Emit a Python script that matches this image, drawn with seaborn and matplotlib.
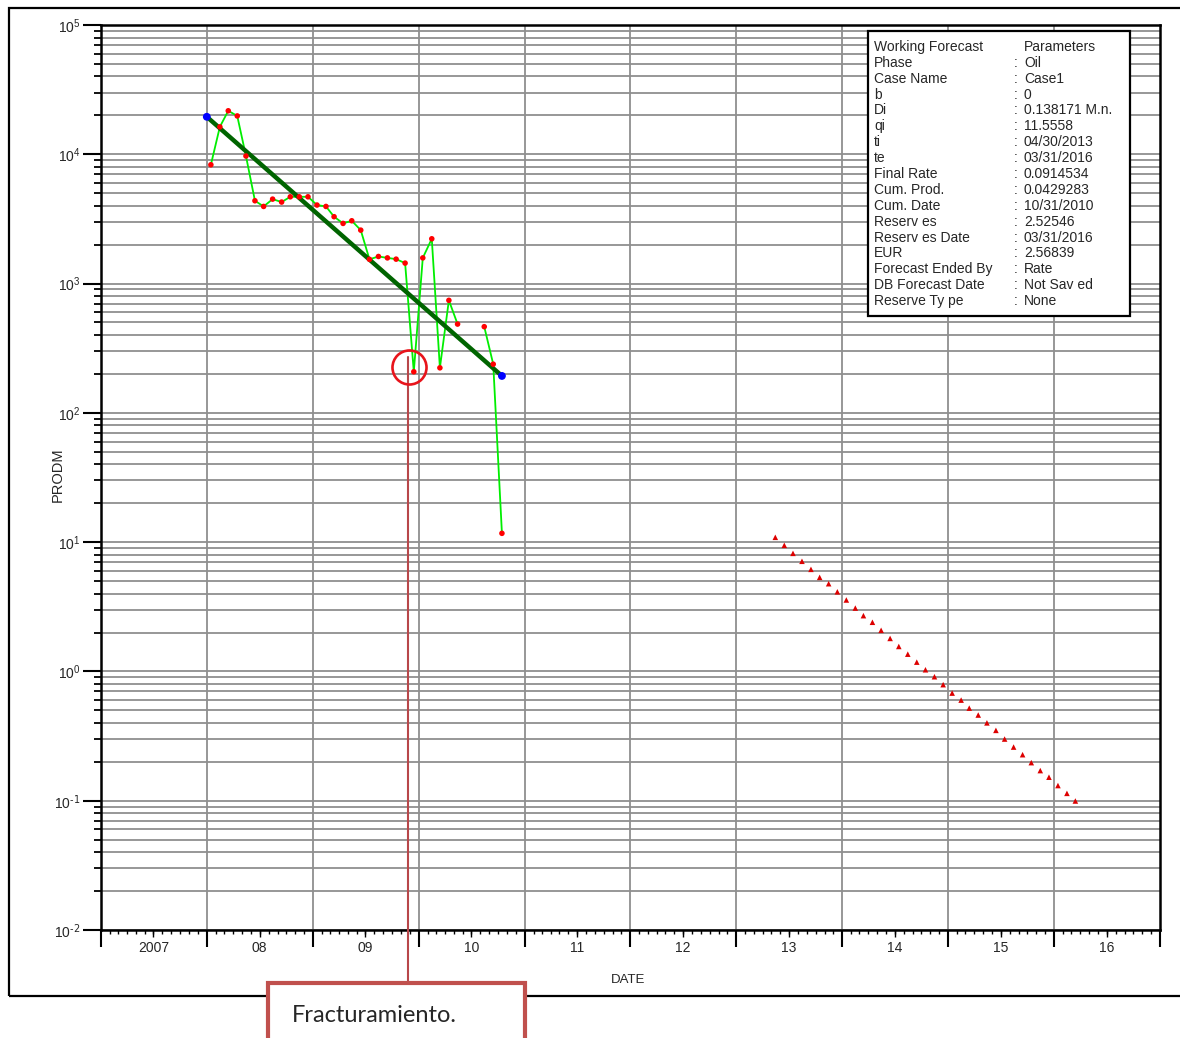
import numpy as np
import pandas as pd
import matplotlib
matplotlib.use("Agg")
import matplotlib.pyplot as plt
from matplotlib.lines import Line2D
from matplotlib.patches import Rectangle
from matplotlib.ticker import FixedLocator, FuncFormatter, NullFormatter
import matplotlib.dates as mdates
import seaborn as sns

# ---------------- data ----------------
hist_months_a = pd.date_range("2008-01-01", "2010-05-01", freq="MS")
hist_months_b = pd.to_datetime(["2010-08-01", "2010-09-01", "2010-10-01"])
hist_rates = [8300, 16300, 21700, 19800, 9700, 4370, 3950, 4500, 4270, 4690, 4690, 4690,
              4050, 3950, 3290, 2920, 3060, 2590, 1540, 1620, 1580, 1545, 1440, 208,
              1580, 2220, 223, 742, 486,
              464, 238, 11.7]
decline_dates = ["2008-01-01", "2010-10-15"]
decline_rates = [19500, 193]
forecast_first_month = "2013-05-01"
forecast_rates = [10.9, 9.45, 8.19, 7.11, 6.16, 5.34, 4.77, 4.13, 3.57, 3.09, 2.70, 2.40,
                  2.08, 1.80, 1.56, 1.36, 1.18, 1.03, 0.91, 0.79, 0.68, 0.60, 0.52, 0.46,
                  0.40, 0.35, 0.30, 0.26, 0.227, 0.197, 0.171, 0.152, 0.131, 0.114, 0.0995]
year_labels = ["2007", "08", "09", "10", "11", "12", "13", "14", "15", "16"]
param_names = ["Working Forecast", "Phase", "Case Name", "b", "Di", "qi", "ti", "te",
               "Final Rate", "Cum. Prod.", "Cum. Date", "Reserv es", "Reserv es Date",
               "EUR", "Forecast Ended By", "DB Forecast Date", "Reserve Ty pe"]
param_values = ["Parameters", "Oil", "Case1", "0", "0.138171 M.n.", "11.5558",
                "04/30/2013", "03/31/2016", "0.0914534", "0.0429283", "10/31/2010",
                "2.52546", "03/31/2016", "2.56839", "Rate", "Not Sav ed", "None"]

# ---------------- frames ----------------
offset = pd.Timedelta(days=14)
hist_dates = list(hist_months_a + offset) + list(hist_months_b + offset)
segment = [0] * len(hist_months_a) + [1] * len(hist_months_b)
hist_df = pd.DataFrame({"date": hist_dates, "rate": hist_rates, "seg": segment})
decl_df = pd.DataFrame({"date": pd.to_datetime(decline_dates), "rate": decline_rates})
fc_dates = pd.date_range(forecast_first_month, periods=len(forecast_rates), freq="MS") + offset
fc_df = pd.DataFrame({"date": fc_dates, "rate": forecast_rates})

# ---------------- style ----------------
sns.set_theme(style="white")
plt.rcParams["font.family"] = ["Liberation Sans", "DejaVu Sans"]
plt.rcParams["mathtext.default"] = "regular"
plt.rcParams["axes.unicode_minus"] = False

W, H = 1180, 1038
fig = plt.figure(figsize=(W / 100, H / 100), dpi=100)
fig.patch.set_facecolor("white")


def fx(px):
    return px / W


def fy(py):
    return 1 - py / H


ax = fig.add_axes([fx(101), fy(930), fx(1160) - fx(101), fy(25) - fy(930)])
ax.set_facecolor("white")

# data layers
sns.lineplot(data=decl_df, x="date", y="rate", color="#006400", linewidth=3.2,
             ax=ax, zorder=4, sort=False)
sns.lineplot(data=hist_df, x="date", y="rate", units="seg", estimator=None,
             color="#00EE00", linewidth=1.3, ax=ax, zorder=3, sort=False)
sns.scatterplot(data=hist_df, x="date", y="rate", color="#FF0000", s=16,
                edgecolor="none", ax=ax, zorder=5)
sns.scatterplot(data=decl_df, x="date", y="rate", color="#0000FF", s=32,
                edgecolor="none", ax=ax, zorder=6)
sns.scatterplot(data=fc_df, x="date", y="rate", color="#DD0000", marker="^", s=16,
                edgecolor="none", ax=ax, zorder=5)

ax.set_yscale("log")
ax.set_ylim(1e-2, 1e5)
ax.set_xlim(pd.Timestamp("2007-01-01"), pd.Timestamp("2017-01-01"))


def exp_label(v, p):
    e = int(round(np.log10(v)))
    if e < 0:
        return r"$\mathdefault{10^{\text{%d}}}$" % e
    return r"$\mathdefault{10^{%d}}$" % e


# y ticks
ax.yaxis.set_major_locator(FixedLocator([10.0 ** k for k in range(-2, 6)]))
ax.yaxis.set_major_formatter(FuncFormatter(exp_label))
minor_y = [m * 10.0 ** k for k in range(-2, 5) for m in range(2, 10)]
ax.yaxis.set_minor_locator(FixedLocator(minor_y))
ax.yaxis.set_minor_formatter(NullFormatter())
ax.tick_params(axis="y", which="major", direction="out", length=13, width=1.5,
               color="black", labelsize=10, pad=2, left=True)
ax.tick_params(axis="y", which="minor", direction="out", length=5, width=1.3,
               color="black", left=True)

# x ticks
year_starts = pd.date_range("2007-01-01", "2017-01-01", freq="YS")
months = pd.date_range("2007-01-01", "2017-01-01", freq="MS")
ax.xaxis.set_major_locator(FixedLocator(mdates.date2num(year_starts)))
ax.xaxis.set_major_formatter(NullFormatter())
ax.xaxis.set_minor_locator(FixedLocator(mdates.date2num(months)))
ax.xaxis.set_minor_formatter(NullFormatter())
ax.tick_params(axis="x", which="major", direction="out", length=12, width=1.5,
               color="black", bottom=True)
ax.tick_params(axis="x", which="minor", direction="out", length=3, width=1.0,
               color="black", bottom=True)

sec = ax.secondary_xaxis("bottom")
mid_years = pd.date_range("2007-07-01", "2016-07-01", freq="12MS")
sec.set_xticks(mdates.date2num(mid_years))
sec.set_xticklabels(year_labels)
sec.tick_params(axis="x", direction="out", length=5, width=1.0, color="black",
                labelsize=10, pad=3)
sec.spines["bottom"].set_visible(False)

# grid
ax.grid(False)
for yv in [10.0 ** k for k in range(-2, 6)] + minor_y:
    ax.axhline(yv, color="#8f8f8f", linewidth=1.3, zorder=1)
for d in year_starts[1:-1]:
    ax.axvline(d, color="#8f8f8f", linewidth=1.3, zorder=1)

for s in ax.spines.values():
    s.set_visible(True)
    s.set_color("black")
    s.set_linewidth(1.8)

ax.set_xlabel("")
ax.set_ylabel("")
fig.text(fx(58), fy(475), "PRODM", rotation=90, ha="center", va="center", fontsize=10.5)
fig.text(fx(628), fy(980), "DATE", ha="center", va="center", fontsize=9.5)

# outer frame
fig.add_artist(Rectangle((fx(9), fy(996)), fx(1190) - fx(9), fy(8) - fy(996),
                         transform=fig.transFigure, fill=False, edgecolor="black",
                         linewidth=1.6, zorder=0.5, clip_on=False))

# parameters box
fig.add_artist(Rectangle((fx(868), fy(316)), fx(1130) - fx(868), fy(31) - fy(316),
                         transform=fig.transFigure, facecolor="white", edgecolor="black",
                         linewidth=1.6, zorder=8))
for i, (nm, val) in enumerate(zip(param_names, param_values)):
    yy = fy(47 + i * 15.875)
    fig.text(fx(874), yy, nm, ha="left", va="center", fontsize=10, zorder=9)
    if i > 0:
        fig.text(fx(1014), yy, ":", ha="left", va="center", fontsize=10, zorder=9)
    fig.text(fx(1024), yy, val, ha="left", va="center", fontsize=10, zorder=9)

# annotation
fig.add_artist(Line2D([fx(408), fx(408)], [fy(357), fy(985)], color="#B8474A",
                      linewidth=1.5, transform=fig.transFigure, zorder=10))
fig.add_artist(Line2D([fx(409)], [fy(367)], marker="o", markersize=24.5,
                      markerfacecolor="none", markeredgecolor="#E8141B",
                      markeredgewidth=1.9, transform=fig.transFigure, zorder=10))
fig.add_artist(Rectangle((fx(268), fy(1045)), fx(525) - fx(268), fy(983) - fy(1045),
                         transform=fig.transFigure, facecolor="white",
                         edgecolor="#C0504D", linewidth=3.0, zorder=11, clip_on=False))
fig.text(fx(292), fy(1015), "Fracturamiento.", ha="left", va="center", fontsize=17,
         family=["Lato", "DejaVu Sans"], zorder=12)

fig.savefig("out.png", dpi=100, facecolor="white")
